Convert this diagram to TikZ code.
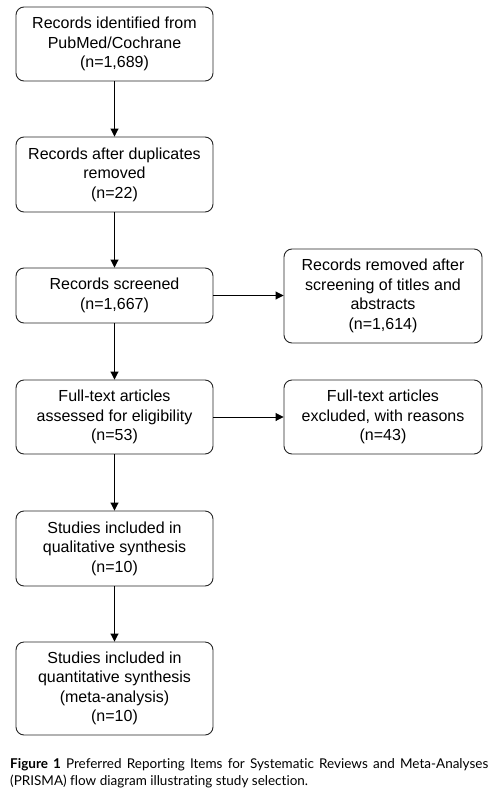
\documentclass[tikz,border=0pt]{standalone}
\usepackage{fontspec}
\setmainfont{Liberation Sans}
\newfontfamily\capfont[Ligatures={NoCommon,NoRare,NoDiscretionary}]{Lato}
\usetikzlibrary{arrows.meta}
\tikzset{
  box/.style={draw=black!85, line width=0.9pt, rounded corners=8pt, align=center,
    font=\fontsize{16}{19.5}\selectfont, inner sep=0pt, minimum width=197pt},
  arr/.style={draw=black, line width=0.9pt, -{Triangle[length=8pt,width=8pt]}}
}
\begin{document}
\begin{tikzpicture}[x=1pt,y=1pt]
\useasboundingbox (0,0) rectangle (494,-795);
\fill[white] (0,0) rectangle (494,-795);
\node[box, minimum height=74pt] (b1) at (114.5,-44) {Records identified from\\PubMed/Cochrane\\(n=1,689)};
\node[box, minimum height=75pt] (b2) at (114.5,-174.5) {Records after duplicates\\removed\\(n=22)};
\node[box, minimum height=55pt] (b3) at (114.5,-295.5) {Records screened\\(n=1,667)};
\node[box, minimum height=74pt] (b4) at (114.5,-417) {Full-text articles\\assessed for eligibility\\(n=53)};
\node[box, minimum height=75pt] (b5) at (114.5,-548.5) {Studies included in\\qualitative synthesis\\(n=10)};
\node[box, minimum height=93pt] (b6) at (114.5,-688.5) {Studies included in\\quantitative synthesis\\(meta-analysis)\\(n=10)};
\node[box, minimum height=94pt, minimum width=198pt] (r1) at (383,-296) {Records removed after\\screening of titles and\\abstracts\\(n=1,614)};
\node[box, minimum height=74pt, minimum width=198pt] (r2) at (383,-417) {Full-text articles\\excluded, with reasons\\(n=43)};
\draw[arr] (b1) -- (b2);
\draw[arr] (b2) -- (b3);
\draw[arr] (b3) -- (b4);
\draw[arr] (b4) -- (b5);
\draw[arr] (b5) -- (b6);
\draw[arr] (b3.east) -- (b3.east -| r1.west);
\draw[arr] (b4.east) -- (r2.west);
\node[anchor=north west, inner sep=0pt, text width=478pt, align=justify,
  font=\capfont\fontsize{13.5}{17}\selectfont] (cap) at (10,-758)
  {\textbf{Figure 1} Preferred Reporting Items for Systematic Reviews and Meta-Analyses\linebreak (PRISMA) flow diagram illustrating study selection.};
\end{tikzpicture}
\end{document}
